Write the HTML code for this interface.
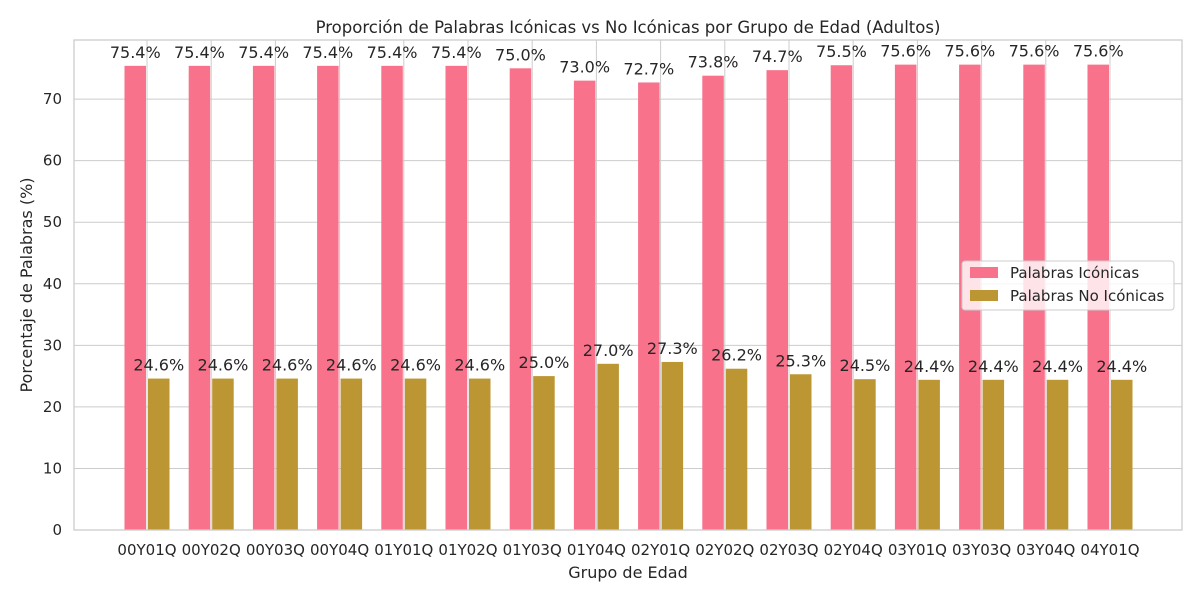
<!DOCTYPE html>
<html><head><meta charset="utf-8"><style>
body{margin:0;background:#fff;font-family:"Liberation Sans","DejaVu Sans",sans-serif}
svg text{font-family:"DejaVu Sans","Liberation Sans",sans-serif;fill:#262626}
</style></head><body>
<svg id="c" width="1200" height="600"></svg>
<script>
const categories=["00Y01Q","00Y02Q","00Y03Q","00Y04Q","01Y01Q","01Y02Q","01Y03Q","01Y04Q","02Y01Q","02Y02Q","02Y03Q","02Y04Q","03Y01Q","03Y03Q","03Y04Q","04Y01Q"];
const iconic=[75.4,75.4,75.4,75.4,75.4,75.4,75.0,73.0,72.7,73.8,74.7,75.5,75.6,75.6,75.6,75.6];
const nonIconic=[24.6,24.6,24.6,24.6,24.6,24.6,25.0,27.0,27.3,26.2,25.3,24.5,24.4,24.4,24.4,24.4];
const yTicks=[0,10,20,30,40,50,60,70];
const NS="http://www.w3.org/2000/svg",svg=document.getElementById('c');
const L=74,R=1182,T=40,B=530,yMax=79.6;
const y=v=>B-v/yMax*(B-T);
const step=64.2,x0=147;
const x=i=>x0+i*step;
const bw=21.5;
function el(t,a,txt){const e=document.createElementNS(NS,t);for(const k in a)e.setAttribute(k,a[k]);if(txt!==undefined)e.textContent=txt;svg.appendChild(e);return e;}
yTicks.forEach(v=>{
const g=el('line',{x1:L,x2:R,y1:y(v),y2:y(v),stroke:'#cccccc','stroke-width':1});


const t=el('text',{x:L-12,y:y(v)+5,'text-anchor':'end','font-size':15},String(v));


});
categories.forEach((c,i)=>{
const g=el('line',{x1:x(i),x2:x(i),y1:T,y2:B,stroke:'#cccccc','stroke-width':1});


});
categories.forEach((c,i)=>{
const b1=el('rect',{x:x(i)-bw-1,y:y(iconic[i]),width:bw,height:B-y(iconic[i]),fill:'#f7728a'});


const b2=el('rect',{x:x(i)+1,y:y(nonIconic[i]),width:bw,height:B-y(nonIconic[i]),fill:'#bc9632'});


const l1=el('text',{x:x(i)-bw/2-1,y:y(iconic[i])-8,'text-anchor':'middle','font-size':16},iconic[i].toFixed(1)+'%');


const l2=el('text',{x:x(i)+bw/2+1,y:y(nonIconic[i])-8,'text-anchor':'middle','font-size':16},nonIconic[i].toFixed(1)+'%');


const t=el('text',{x:x(i),y:555,'text-anchor':'middle','font-size':15},c);


});
const fr=el('rect',{x:L,y:T,width:R-L,height:B-T,fill:'none',stroke:'#cccccc','stroke-width':1.3});


const ti=el('text',{x:628,y:33,'text-anchor':'middle','font-size':16.5},'Proporción de Palabras Icónicas vs No Icónicas por Grupo de Edad (Adultos)');


const xt=el('text',{x:628,y:578,'text-anchor':'middle','font-size':16},'Grupo de Edad');


const yt=el('text',{x:32,y:285,'text-anchor':'middle','font-size':16,transform:'rotate(-90 32 285)'},'Porcentaje de Palabras (%)');


const lg=el('rect',{x:962,y:261,width:212,height:49,rx:3,fill:'rgba(255,255,255,0.8)',stroke:'#cccccc'});


const s1=el('rect',{x:970,y:267,width:28,height:11,fill:'#f7728a'});


const e1=el('text',{x:1010,y:278,'font-size':15},'Palabras Icónicas');


const s2=el('rect',{x:970,y:290,width:28,height:11,fill:'#bc9632'});


const e2=el('text',{x:1010,y:301,'font-size':15},'Palabras No Icónicas');


</script>
</body></html>
